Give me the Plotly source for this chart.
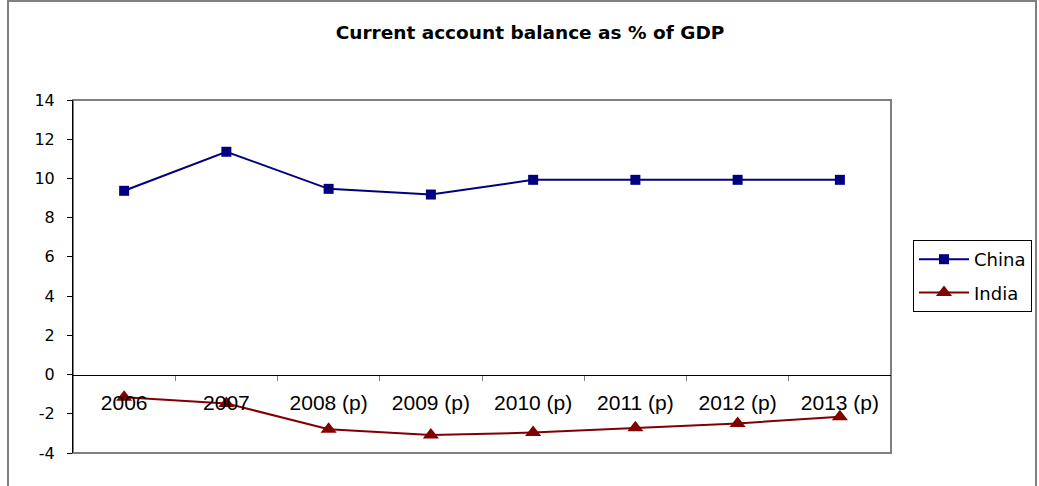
import plotly.graph_objects as go

years = ["2006", "2007", "2008 (p)", "2009 (p)", "2010 (p)", "2011 (p)", "2012 (p)", "2013 (p)"]
china = [9.37, 11.36, 9.47, 9.18, 9.93, 9.93, 9.93, 9.93]
india = [-1.16, -1.47, -2.79, -3.08, -2.96, -2.71, -2.49, -2.15]
y_ticks = [-4, -2, 0, 2, 4, 6, 8, 10, 12, 14]
y_tick_text = [str(v) for v in y_ticks]

ARIAL = "Arial, Liberation Sans, sans-serif"
WIDE = "DejaVu Sans, sans-serif"

fig = go.Figure()
fig.add_trace(go.Scatter(
    x=years, y=china, name="China", mode="lines+markers", legendgroup="a",
    line=dict(color="#000080", width=2),
    marker=dict(symbol="square", size=10, color="#000080"),
))
fig.add_trace(go.Scatter(
    x=years, y=india, name="India", mode="lines+markers", legendgroup="b",
    line=dict(color="#800000", width=2),
    marker=dict(symbol="triangle-up", size=14, color="#800000"),
))

L, R, T, B = 73, 891, 100, 453
PW, PH = R - L, B - T

# gray plot-area frame
fig.add_shape(type="rect", xref="paper", yref="paper", x0=0, x1=1, y0=0, y1=1,
              line=dict(color="#808080", width=2), layer="below")
# outer chart frame
fig.add_shape(type="rect", xref="paper", yref="paper",
              x0=(8 - L) / PW, x1=(1036 - L) / PW,
              y0=(B - 500) / PH, y1=(B - 1) / PH,
              line=dict(color="#808080", width=2), layer="below")

fig.update_layout(
    width=1039, height=486,
    margin=dict(l=L, r=1039 - R, t=T, b=486 - B, autoexpand=False),
    paper_bgcolor="white", plot_bgcolor="white",
    font=dict(family=ARIAL, color="black"),
    title=dict(text="<b>Current account balance as % of GDP</b>",
               x=530 / 1039, xref="container", xanchor="center",
               y=1 - 33 / 486, yref="container", yanchor="middle",
               font=dict(size=18.5, family=WIDE, color="black")),
    legend=dict(x=(913 - L) / PW, xanchor="left", y=(B - 240) / PH, yanchor="top",
                bordercolor="black", borderwidth=1, font=dict(size=18, family=WIDE),
                bgcolor="white", tracegroupgap=7, itemwidth=50),
    xaxis=dict(type="category", range=[-0.5, 7.5], anchor="free", position=4 / 18,
               showline=True, linecolor="black", linewidth=1,
               ticks="outside", tickson="boundaries", ticklen=5, tickcolor="#808080",
               showgrid=False, zeroline=False, ticklabelstandoff=9, automargin=False,
               tickfont=dict(size=21, family=ARIAL, color="black")),
    yaxis=dict(range=[-4, 14], tickvals=y_ticks, ticktext=y_tick_text,
               showline=True, linecolor="black", automargin=False,
               linewidth=1, ticks="outside", ticklen=5, tickcolor="black",
               showgrid=False, zeroline=False, ticklabelstandoff=9,
               tickfont=dict(size=16, family=WIDE, color="black")),
)

fig.write_html("out.html", config={"displayModeBar": False},
               post_script="document.body.style.margin='0';")
